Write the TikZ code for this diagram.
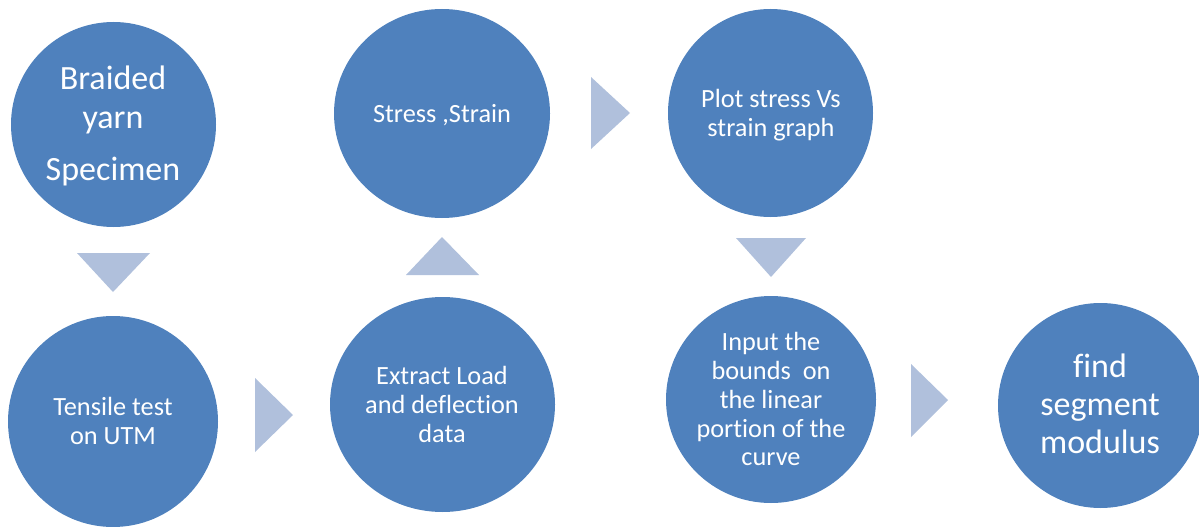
\documentclass[tikz,border=0pt]{standalone}
\usepackage{fontspec}
\setmainfont{Carlito}[Ligatures=NoCommon]
\usetikzlibrary{shapes.geometric}
\definecolor{cblue}{RGB}{79,129,189}
\definecolor{ablue}{RGB}{176,192,220}
\tikzset{
  x=1pt, y=-1pt,
  disc/.style={ellipse, fill=cblue, inner sep=0pt, draw=none},
  lbl/.style={text=white, anchor=base, inner sep=0pt},
  small/.style={font=\fontsize{26.3}{29}\selectfont},
  big/.style={font=\fontsize{34}{39}\selectfont},
  bigb/.style={font=\fontsize{34}{38}\selectfont},
  arrowtri/.style={fill=ablue, draw=none}
}
\begin{document}
\begin{tikzpicture}
\useasboundingbox (0,0) rectangle (1199,527);
% circles
\node[disc, minimum width=205pt, minimum height=205pt] (c1) at (113.5,124.5) {};
\node[disc, minimum width=210pt, minimum height=211pt] (c2) at (113,421.5) {};
\node[disc, minimum width=216pt, minimum height=209pt] (c3) at (442,113.5) {};
\node[disc, minimum width=225pt, minimum height=215pt] (c4) at (442.5,404.5) {};
\node[disc, minimum width=205pt, minimum height=208pt] (c5) at (770.5,113) {};
\node[disc, minimum width=210pt, minimum height=207pt] (c6) at (771,399.5) {};
\node[disc, minimum width=205pt, minimum height=205pt] (c7) at (1100.5,405.5) {};
% texts
\node[lbl, big] (t1a) at (113,89) {Braided};
\node[lbl, big] (t1b) at (113,128) {yarn};
\node[lbl, big] (t1c) at (113,180) {Specimen};
\node[lbl, small] (t2a) at (113,415) {Tensile test};
\node[lbl, small] (t2b) at (113,444) {on UTM};
\node[lbl, small] (t3) at (442,122) {Stress ,Strain};
\node[lbl, small] (t4a) at (442,384) {Extract Load};
\node[lbl, small] (t4b) at (442,413) {and deflection};
\node[lbl, small] (t4c) at (442,442) {data};
\node[lbl, small] (t5a) at (771,107) {Plot stress Vs};
\node[lbl, small] (t5b) at (771,136) {strain graph};
\node[lbl, small] (t6a) at (771,350) {Input the};
\node[lbl, small] (t6b) at (771,379) {bounds\ \ on};
\node[lbl, small] (t6c) at (771,408) {the linear};
\node[lbl, small] (t6d) at (771,437) {portion of the};
\node[lbl, small] (t6e) at (771,465) {curve};
\node[lbl, bigb] (t7a) at (1100,377) {find};
\node[lbl, bigb] (t7b) at (1100,415) {segment};
\node[lbl, bigb] (t7c) at (1100,453) {modulus};
% arrows
\fill[arrowtri] (77,253) -- (150,253) -- (113,292) -- cycle;
\fill[arrowtri] (255,378) -- (255,452) -- (293,415) -- cycle;
\fill[arrowtri] (406,275) -- (479,275) -- (442,237) -- cycle;
\fill[arrowtri] (591,77) -- (591,149) -- (630,113) -- cycle;
\fill[arrowtri] (736,238) -- (806,238) -- (771,277) -- cycle;
\fill[arrowtri] (911,364) -- (911,437) -- (948,400) -- cycle;
\end{tikzpicture}
\end{document}
